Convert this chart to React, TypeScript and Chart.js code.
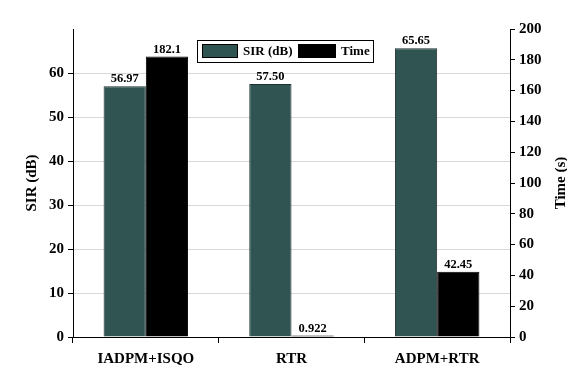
import React, { useEffect, useRef } from "react";
import { Chart, registerables } from "chart.js";

Chart.register(...registerables);

const categories = ["IADPM+ISQO", "RTR", "ADPM+RTR"];
const sirValues = [56.97, 57.5, 65.65];
const timeValues = [182.1, 0.922, 42.45];
const sirLabels = ["56.97", "57.50", "65.65"];
const timeLabels = ["182.1", "0.922", "42.45"];
const seriesNames = ["SIR (dB)", "Time"];
const seriesColors = ["#2F5451", "#000000"];
const rightTitle = "Time (s)";

const FONT = "'Liberation Serif', 'Times New Roman', serif";

const labelPlugin = {
  id: "valueLabels",
  afterDatasetsDraw(chart: any) {
    const ctx = chart.ctx;
    ctx.save();
    ctx.font = `bold 12.5px ${FONT}`;
    ctx.fillStyle = "#000";
    ctx.textAlign = "center";
    ctx.textBaseline = "alphabetic";
    const all = [sirLabels, timeLabels];
    chart.data.datasets.forEach((ds: any, di: number) => {
      const meta = chart.getDatasetMeta(di);
      meta.data.forEach((bar: any, i: number) => {
        ctx.fillText(all[di][i], bar.x, bar.y - 4);
      });
    });
    ctx.restore();
  },
};

const legendPlugin = {
  id: "boxLegend",
  afterDraw(chart: any) {
    const ctx = chart.ctx;
    ctx.save();
    const x0 = 197, y0 = 40, w = 176, h = 22;
    ctx.fillStyle = "#fff";
    ctx.fillRect(x0, y0, w, h);
    ctx.strokeStyle = "#000";
    ctx.lineWidth = 1;
    ctx.strokeRect(x0 + 0.5, y0 + 0.5, w, h);
    ctx.font = `bold 13px ${FONT}`;
    ctx.textBaseline = "middle";
    ctx.textAlign = "left";
    const cy = y0 + h / 2 + 0.5;
    ctx.fillStyle = seriesColors[0];
    ctx.fillRect(202, 44, 36, 14);
    ctx.strokeStyle = "#000";
    ctx.strokeRect(202.5, 44.5, 35, 13);
    ctx.fillStyle = "#000";
    ctx.fillText(seriesNames[0], 243, cy);
    ctx.fillStyle = seriesColors[1];
    ctx.fillRect(298, 44, 38, 14);
    ctx.fillStyle = "#000";
    ctx.fillText(seriesNames[1], 341, cy);

    // right axis title, reading bottom-to-top
    const area = chart.chartArea;
    ctx.translate(561, (area.top + area.bottom) / 2);
    ctx.rotate(-Math.PI / 2);
    ctx.font = `bold 15px ${FONT}`;
    ctx.textAlign = "center";
    ctx.textBaseline = "middle";
    ctx.fillText(rightTitle, 0, 0);
    ctx.restore();
  },
};

export default function App() {
  const ref = useRef<HTMLCanvasElement>(null);
  useEffect(() => {
    document.body.style.margin = "0";
    const chart = new Chart(ref.current as HTMLCanvasElement, {
      type: "bar",
      data: {
        labels: categories,
        datasets: [
          {
            label: seriesNames[0],
            data: sirValues,
            backgroundColor: seriesColors[0],
            borderColor: "#1c2f2e",
            borderWidth: 1,
            yAxisID: "y",
            categoryPercentage: 0.58,
            barPercentage: 1,
          },
          {
            label: seriesNames[1],
            data: timeValues,
            backgroundColor: seriesColors[1],
            borderColor: "#000",
            borderWidth: 1,
            yAxisID: "y1",
            categoryPercentage: 0.58,
            barPercentage: 1,
          },
        ],
      },
      options: {
        animation: false,
        responsive: false,
        maintainAspectRatio: false,
        layout: { padding: { top: 29, left: 0, right: 0, bottom: 0 } },
        plugins: {
          legend: { display: false },
          tooltip: { enabled: false },
        },
        scales: {
          x: {
            offset: true,
            grid: {
              offset: true,
              drawOnChartArea: false,
              drawTicks: true,
              tickLength: 6,
              tickColor: "#000",
            },
            border: { color: "#000", width: 1 },
            ticks: {
              color: "#000",
              font: { family: FONT, size: 15, weight: "bold" },
              padding: 7,
            },
            afterFit(scale: any) {
              scale.height = 41;
            },
          },
          y: {
            position: "left",
            min: 0,
            max: 70,
            afterBuildTicks(scale: any) {
              scale.ticks = scale.ticks.filter((t: any) => t.value <= 60);
            },
            ticks: {
              stepSize: 10,
              color: "#000",
              font: { family: FONT, size: 15, weight: "bold" },
              padding: 4,
            },
            grid: {
              color: (c: any) =>
                c.tick && c.tick.value > 0 ? "#d9d9d9" : "rgba(0,0,0,0)",
              tickColor: "#000",
              tickLength: 5,
            },
            border: { color: "#000", width: 1 },
            title: {
              display: true,
              text: "SIR (dB)",
              color: "#000",
              font: { family: FONT, size: 15, weight: "bold", lineHeight: 1 },
              padding: { top: 25, bottom: 0 },
            },
            afterFit(scale: any) {
              scale.width = 73;
            },
          },
          y1: {
            position: "right",
            min: 0,
            max: 200,
            ticks: {
              stepSize: 20,
              color: "#000",
              font: { family: FONT, size: 15, weight: "bold" },
              padding: 4,
            },
            grid: {
              drawOnChartArea: false,
              tickColor: "#000",
              tickLength: 5,
            },
            border: { color: "#000", width: 1 },
            title: { display: false },
            afterFit(scale: any) {
              scale.width = 57;
            },
          },
        },
      },
      plugins: [labelPlugin, legendPlugin],
    } as any);
    return () => chart.destroy();
  }, []);
  return (
    <div style={{ position: "relative", width: 567, height: 378, background: "#fff" }}>
      <canvas ref={ref} width={567} height={378} style={{ width: 567, height: 378 }} />
    </div>
  );
}
